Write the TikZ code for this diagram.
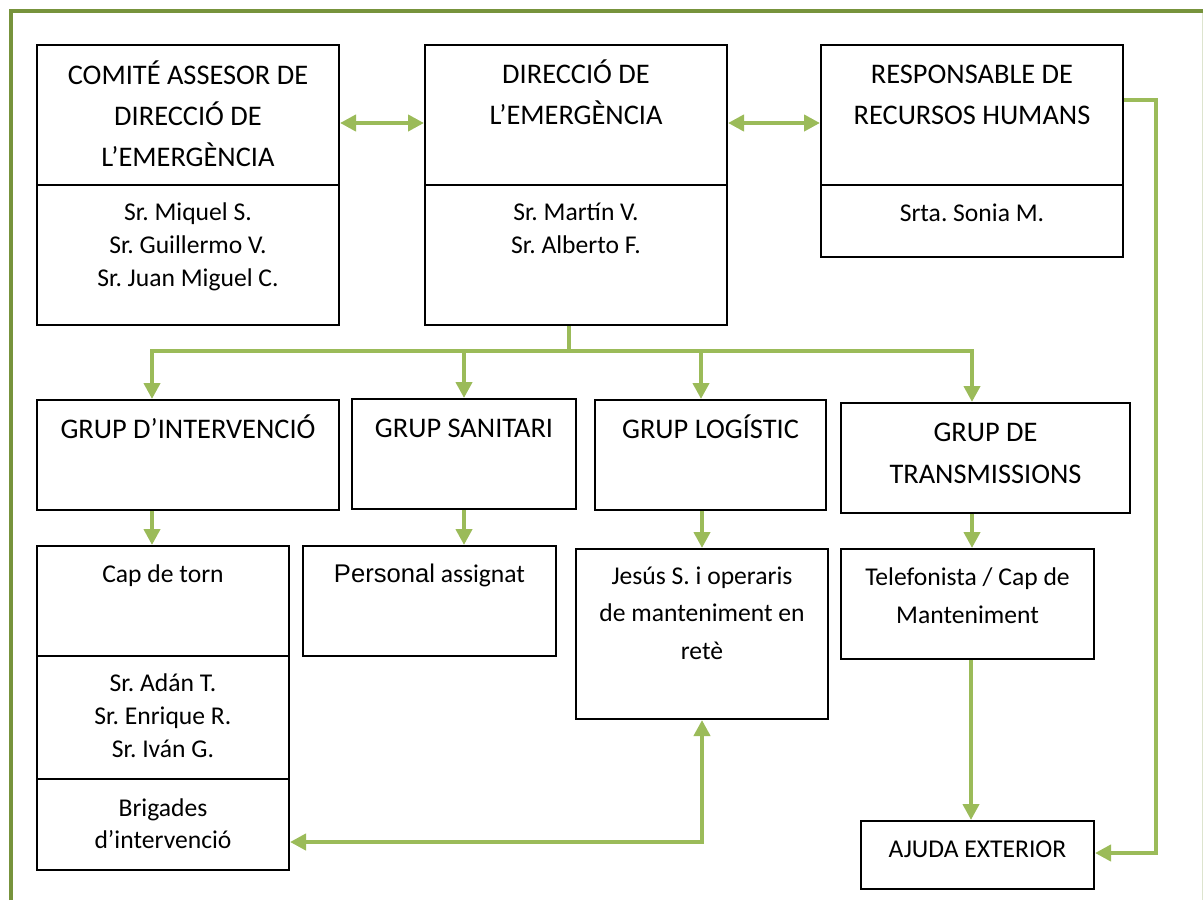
\documentclass[tikz,border=0pt]{standalone}
\usepackage{fontspec}
\setmainfont{Carlito}
\newfontfamily\arialf{Liberation Sans}
\usetikzlibrary{fit,arrows.meta,calc}
\definecolor{frameg}{HTML}{77933C}
\definecolor{arrg}{HTML}{9BBB59}
\frenchspacing
\begin{document}
\begin{tikzpicture}[x=0.75pt,y=-0.75pt,
  box/.style={draw=black, line width=1.5pt, inner sep=0pt, rectangle},
  ttl/.style={anchor=base, align=center, inner sep=0pt, font=\fontsize{21.3}{30.75}\selectfont},
  nm/.style={anchor=base, align=center, inner sep=0pt, font=\fontsize{19.2}{24.4}\selectfont},
  nmw/.style={anchor=base, align=center, inner sep=0pt, font=\fontsize{19.2}{28.1}\selectfont},
  conn/.style={draw=arrg, line width=3.2pt},
  arr/.style={draw=arrg, line width=3.2pt, -{Triangle[length=12pt,width=12pt]}},
  dbl/.style={draw=arrg, line width=3.2pt, {Triangle[length=12pt,width=12pt]}-{Triangle[length=12pt,width=12pt]}}]
\useasboundingbox (0,0) rectangle (1203,900);
% frame
\draw[frameg, line width=3.2pt] (11,900) -- (11,11) -- (1203,11);
\draw[frameg!25, line width=0.75pt] (1202,13) -- (1202,900);
% top row boxes
\node[box, fit={(37,45) (339,185)}] (At) {};
\node[box, fit={(37,185) (339,325)}] (Ab) {};
\node[box, fit={(425,45) (727,185)}] (Bt) {};
\node[box, fit={(425,185) (727,325)}] (Bb) {};
\node[box, fit={(821,45) (1123,185)}] (Ct) {};
\node[box, fit={(821,185) (1123,257)}] (Cb) {};
\node[ttl] (Atx) at (188,166) {COMITÉ ASSESOR DE\\DIRECCIÓ DE\\L’EMERGÈNCIA};
\node[nm] (Abx) at (188,286) {Sr. Miquel S.\\Sr. Guillermo V.\\Sr. Juan Miguel C.};
\node[ttl] (Btx) at (576,124) {DIRECCIÓ DE\\L’EMERGÈNCIA};
\node[nm] (Bbx) at (576,253) {Sr. Martín V.\\Sr. Alberto F.};
\node[ttl] (Ctx) at (972,124) {RESPONSABLE DE\\RECURSOS HUMANS};
\node[nm] (Cbx) at (972,221) {Srta. Sonia M.};
% group boxes
\node[box, fit={(37,400) (339,510)}] (GI) {};
\node[box, fit={(352,399) (576,509)}] (GS) {};
\node[box, fit={(595,400) (826,510)}] (GL) {};
\node[box, fit={(841,403) (1130,513)}] (GT) {};
\node[ttl] (GItx) at (188,438) {GRUP D’INTERVENCIÓ};
\node[ttl] (GStx) at (464,437) {GRUP SANITARI};
\node[ttl] (GLtx) at (710.5,438) {GRUP LOGÍSTIC};
\node[ttl, font=\fontsize{21.3}{31.1}\selectfont] (GTtx) at (985.5,483) {GRUP DE\\TRANSMISSIONS};
% third row
\node[box, fit={(37,546) (289,656)}] (Cap) {};
\node[box, fit={(37,656) (289,779)}] (Srs) {};
\node[box, fit={(37,779) (289,870)}] (Brig) {};
\node[box, fit={(303,546) (556,656)}] (Pers) {};
\node[box, fit={(576,549) (828,719)}] (Jes) {};
\node[box, fit={(841,549) (1094,659)}] (Tel) {};
\node[box, fit={(861,821) (1094,889)}] (Aj) {};
\node[nm] (Captx) at (163,582) {Cap de torn};
\node[nm] (Srstx) at (163,757) {Sr. Adán T.\\Sr. Enrique R.\\Sr. Iván G.};
\node[nm, font=\fontsize{19.2}{23.3}\selectfont] (Brigtx) at (163,848) {Brigades\\d’intervenció};
\node[nm] (Perstx) at (429.5,582) {{\arialf Personal} assignat};
\node[nmw] (Jestx) at (702,659) {Jesús S. i operaris\\de manteniment en\\retè};
\node[nmw] (Teltx) at (967.5,623) {Telefonista / Cap de\\Manteniment};
\node[nm] (Ajtx) at (977.5,857) {AJUDA EXTERIOR};
% connectors
\draw[dbl] ($(At.east)+(0,8)$) -- ($(Bt.west)+(0,8)$);
\draw[dbl] ($(Bt.east)+(0,8)$) -- ($(Ct.west)+(0,8)$);
\draw[arr] ($(Ct.east)+(0,-15)$) -- ++(32,0) |- ($(Aj.east)+(0,-2)$);
\coordinate (bus) at ($(Bb.south)+(-7,25)$);
\draw[conn] ($(Bb.south)+(-7,0)$) -- (bus);
\draw[arr] (bus) -| ($(GI.north)+(-36,0)$);
\draw[arr] (bus) -| (GS.north);
\draw[arr] (bus) -| ($(GL.north)+(-9.5,0)$);
\draw[arr] (bus) -| ($(GT.north)+(-13.5,0)$);
\draw[arr] ($(GI.south)+(-36,0)$) coordinate (gi) -- (gi |- Cap.north);
\draw[arr] (GS.south) -- (GS.south |- Pers.north);
\draw[arr] (GL.south -| Jes.north) -- (Jes.north);
\draw[arr] ($(GT.south)+(-13.5,0)$) coordinate (gt) -- (gt |- Tel.north);
\draw[arr] ($(Tel.south)+(3.5,0)$) coordinate (tl) -- (tl |- Aj.north);
\draw[dbl] ($(Brig.east)+(0,17.5)$) -| (Jes.south);
\end{tikzpicture}
\end{document}
